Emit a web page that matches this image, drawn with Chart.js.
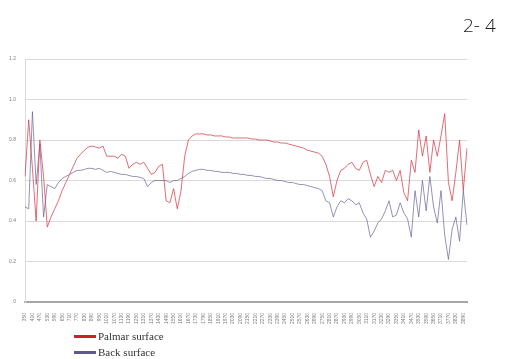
<!DOCTYPE html>
<html>
<head>
<meta charset="utf-8">
<script src="https://cdn.jsdelivr.net/npm/chart.js@4/dist/chart.umd.min.js"></script>
<style>
  html, body { margin: 0; padding: 0; background: #fff; }
  #wrap { position: relative; width: 506px; height: 359px; overflow: hidden; }
  #grafico { position: absolute; left: 0; top: 0; }
  #titulo { position: absolute; left: 463px; top: 12px; font-family: "Open Sans", sans-serif; font-weight: 300; font-size: 19px; color: #222; }
  .leg { position: absolute; left: 74px; font-family: "Liberation Serif", serif; font-size: 11px; color: #333; line-height: 12px; }
  .leg span { display: inline-block; width: 22px; height: 3px; vertical-align: middle; margin-right: 2px; position: relative; top: -1px; }
</style>
</head>
<body>
<div id="wrap">
  <canvas id="grafico" width="506" height="359"></canvas>
  <div id="titulo">2- 4</div>
  <div class="leg" style="top:330px"><span style="background:#c8232d"></span>Palmar surface</div>
  <div class="leg" style="top:346px"><span style="background:#5c5a8e"></span>Back surface</div>
</div>
<script>
// comprimentos de onda (rótulos do eixo x)
const wavelengths = [350,380,410,440,470,500,530,560,590,620,650,680,710,740,770,800,830,860,890,920,
  950,980,1010,1040,1070,1100,1130,1160,1190,1220,1250,1280,1310,1340,1370,1400,1430,1460,1490,1520,
  1550,1580,1610,1640,1670,1700,1730,1760,1790,1820,1850,1880,1910,1940,1970,2000,2030,2060,2090,2120,
  2150,2180,2210,2240,2270,2300,2330,2360,2390,2420,2450,2480,2510,2540,2570,2600,2630,2660,2690,2720,
  2750,2780,2810,2840,2870,2900,2930,2960,2990,3020,3050,3080,3110,3140,3170,3200,3230,3260,3290,3320,
  3350,3380,3410,3440,3470,3500,3530,3560,3590,3620,3650,3680,3710,3740,3770,3800,3830,3860,3890,3920];

// Palmar surface
const palmar = [0.62,0.90,0.66,0.40,0.80,0.62,0.37,0.42,0.46,0.50,
  0.55,0.59,0.63,0.67,0.71,0.73,0.75,0.765,0.77,0.765,
  0.76,0.77,0.72,0.72,0.72,0.71,0.73,0.72,0.66,0.68,
  0.69,0.68,0.69,0.66,0.63,0.64,0.67,0.68,0.50,0.49,
  0.56,0.46,0.55,0.72,0.80,0.82,0.83,0.83,0.83,0.825,
  0.825,0.82,0.82,0.82,0.815,0.815,0.81,0.81,0.81,0.81,
  0.81,0.805,0.805,0.80,0.80,0.80,0.795,0.79,0.79,0.785,
  0.785,0.78,0.775,0.77,0.765,0.76,0.75,0.745,0.74,0.735,
  0.72,0.68,0.62,0.52,0.60,0.65,0.66,0.68,0.69,0.66,
  0.65,0.69,0.70,0.63,0.57,0.62,0.59,0.65,0.64,0.65,
  0.60,0.65,0.54,0.50,0.70,0.64,0.85,0.72,0.82,0.64,
  0.80,0.72,0.82,0.93,0.59,0.50,0.64,0.80,0.55,0.76];

// Back surface
const back = [0.47,0.46,0.94,0.58,0.78,0.42,0.58,0.57,0.56,0.59,
  0.61,0.62,0.63,0.64,0.65,0.65,0.655,0.66,0.66,0.655,
  0.66,0.65,0.64,0.645,0.64,0.635,0.63,0.63,0.625,0.62,
  0.62,0.615,0.61,0.57,0.59,0.60,0.60,0.60,0.60,0.59,
  0.60,0.60,0.61,0.62,0.635,0.645,0.65,0.655,0.655,0.65,
  0.65,0.645,0.645,0.64,0.64,0.64,0.635,0.635,0.63,0.63,
  0.625,0.625,0.62,0.62,0.615,0.61,0.61,0.605,0.60,0.60,
  0.595,0.59,0.59,0.585,0.58,0.58,0.575,0.57,0.565,0.56,
  0.55,0.50,0.49,0.42,0.47,0.50,0.49,0.51,0.50,0.48,
  0.49,0.44,0.41,0.32,0.35,0.39,0.41,0.45,0.50,0.42,
  0.43,0.49,0.44,0.41,0.32,0.55,0.42,0.60,0.45,0.62,
  0.47,0.39,0.55,0.33,0.21,0.36,0.42,0.30,0.55,0.38];

// ticks do eixo y
const yTicks = [0, 0.2, 0.4, 0.6, 0.8, 1, 1.2];

const ctx = document.getElementById('grafico').getContext('2d');
new Chart(ctx, {
    type: 'line',
    data: {
        labels: wavelengths,
        datasets: [{
            label: 'Palmar surface',
            data: palmar,
            borderColor: 'rgba(214, 60, 75, 0.75)',
            borderWidth: 1
        }, {
            label: 'Back surface',
            data: back,
            borderColor: 'rgba(105, 100, 150, 0.7)',
            borderWidth: 1
        }]
    },
    options: {
        responsive: false,
        animation: false,
        layout: { padding: { top: 59, right: 39, bottom: 0, left: 0 } },
        elements: { point: { radius: 0 }, line: { tension: 0 } },
        plugins: { legend: { display: false }, tooltip: { enabled: false } },
        scales: {
            x: {
                offset: false,
                grid: { display: false },
                border: { color: '#a6a6a6', width: 2 },
                ticks: {
                    autoSkip: false,
                    minRotation: 90,
                    maxRotation: 90,
                    padding: 3,
                    color: '#7f7f7f',
                    font: { family: 'Liberation Sans', size: 5 },
                    callback: function(value, index) {
                        return index % 2 === 0 ? this.getLabelForValue(value) : '';
                    }
                },
                afterFit: function(scale) { scale.height = 57; }
            },
            y: {
                min: yTicks[0],
                max: yTicks[yTicks.length - 1],
                grid: { color: '#dadada', drawTicks: false },
                border: { color: '#dadada' },
                ticks: {
                    stepSize: 0.2,
                    padding: 9,
                    color: '#7f7f7f',
                    font: { family: 'Liberation Sans', size: 5 }
                },
                afterFit: function(scale) { scale.width = 25; }
            }
        }
    }
});
</script>
</body>
</html>
